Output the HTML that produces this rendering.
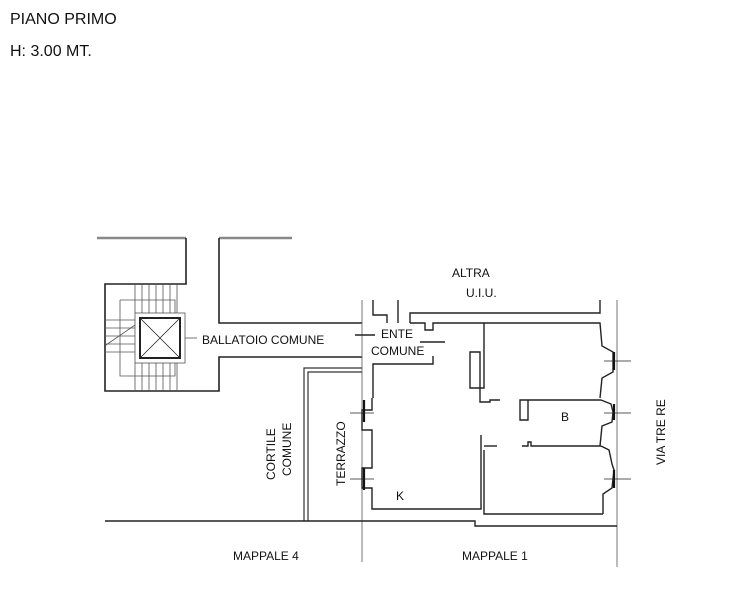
<!DOCTYPE html>
<html><head><style>
body{margin:0;background:#fff;width:736px;height:600px;overflow:hidden}
svg{position:absolute;left:0;top:0}
text{font-family:"Liberation Sans",sans-serif;fill:#111}
</style></head><body>
<svg width="736" height="600" viewBox="0 0 736 600">
<text x="10" y="24" font-size="16">PIANO PRIMO</text>
<text x="10" y="56" font-size="16">H: 3.00 MT.</text>
<g stroke="#222" stroke-width="1.6" fill="none">
<!-- top left lines -->
<line x1="97" y1="238" x2="186" y2="238" stroke="#888" stroke-width="2.5"/>
<line x1="219" y1="238" x2="292" y2="238" stroke="#888" stroke-width="2.5"/>
<polyline points="186,238 186,284 105,284 105,391 219,391 219,357 362,357"/>
<polyline points="219,238 219,323 362,323"/>
<!-- lift -->
<rect x="140" y="318" width="40" height="40" stroke-width="2"/>
<line x1="140" y1="318" x2="180" y2="358" stroke-width="0.8"/>
<line x1="180" y1="318" x2="140" y2="358" stroke-width="0.8"/>
</g>
<g stroke="#555" stroke-width="0.8" fill="none">
<rect x="135" y="313" width="50" height="50"/>
<polyline points="120,300 175,300 175,313"/>
<polyline points="120,300 120,376 175,376 175,363"/>
<line x1="135" y1="285" x2="135" y2="313"/><line x1="142" y1="285" x2="142" y2="313"/><line x1="149" y1="285" x2="149" y2="313"/><line x1="156" y1="285" x2="156" y2="313"/><line x1="163" y1="285" x2="163" y2="313"/><line x1="170" y1="285" x2="170" y2="313"/><line x1="177" y1="285" x2="177" y2="313"/>
<line x1="135" y1="363" x2="135" y2="391"/><line x1="142" y1="363" x2="142" y2="391"/><line x1="149" y1="363" x2="149" y2="391"/><line x1="156" y1="363" x2="156" y2="391"/><line x1="163" y1="363" x2="163" y2="391"/><line x1="170" y1="363" x2="170" y2="391"/><line x1="177" y1="363" x2="177" y2="391"/>
<line x1="105" y1="320" x2="135" y2="320"/><line x1="105" y1="328" x2="135" y2="328"/><line x1="105" y1="336" x2="135" y2="336"/><line x1="105" y1="344" x2="135" y2="344"/><line x1="105" y1="352" x2="135" y2="352"/>
<line x1="106" y1="345" x2="135" y2="325"/>
<line x1="185" y1="338" x2="197" y2="338"/>
<line x1="362" y1="300" x2="362" y2="562"/>
<line x1="617" y1="300" x2="617" y2="567"/>
</g>
<g stroke="#222" stroke-width="1.4" fill="none">
<!-- entrance -->
<polyline points="373,300 373,315 387,315 387,323"/>
<polyline points="398,300 398,323"/>
<polyline points="410,323 410,313 600,313 600,300"/>
<polyline points="410,323 425,323 425,330 433,330 433,323 484,323"/>
<polyline points="433,356 433,364 373,364 373,398"/>
<line x1="355" y1="335" x2="375" y2="335"/>
<line x1="420" y1="342" x2="445" y2="342"/>
<!-- cortile -->
<polyline points="304,521 304,368 362,368" stroke="#333" stroke-width="1.2"/>
<polyline points="308,521 308,372 362,372" stroke="#333" stroke-width="1.2"/>
<!-- K room -->
<polyline points="372,398 372,410 362,410 362,430 372,430 372,468 362,468 362,488 372,488 372,509 481,509 481,435"/>
<polyline points="484,323 484,388 470,388 470,352 480,352 480,402 490,402 490,400 500,400"/>
<polyline points="530,400 520,400 520,420 528,420 528,400 601,400"/>
<polyline points="484,446 497,446"/>
<polyline points="522,446 528,446 528,442 531,442 531,446 601,446"/>
<polyline points="484,450 484,514 603,514"/>
<polyline points="484,323 600,323 602,346 613,352 613,372 602,378 600,398"/>
<polyline points="601,400 611,404 613,412 612,422 602,426 600,446"/>
<polyline points="601,446 609,450 612,464 614,470 612,488 603,494 603,514"/>
<polyline points="105,521 475,521 475,526 617,526"/>
</g>
<g stroke="#111" stroke-width="2.2">
<line x1="614" y1="352" x2="614" y2="370"/><line x1="614" y1="404" x2="614" y2="420"/><line x1="614" y1="470" x2="614" y2="488"/>
<line x1="364" y1="400" x2="364" y2="422"/><line x1="364" y1="468" x2="364" y2="490"/>
</g>
<g stroke="#222" stroke-width="0.8">
<line x1="604" y1="361" x2="631" y2="361"/><line x1="604" y1="413" x2="631" y2="413"/><line x1="604" y1="479" x2="631" y2="479"/>
<line x1="350" y1="413" x2="374" y2="413"/><line x1="350" y1="479" x2="374" y2="479"/>
</g>
<g font-size="12">
<text x="452" y="277">ALTRA</text>
<text x="466" y="297">U.I.U.</text>
<text x="202" y="344">BALLATOIO COMUNE</text>
<text x="381" y="338">ENTE</text>
<text x="371" y="355">COMUNE</text>
<text x="396" y="500">K</text>
<text x="561" y="421">B</text>
<text x="233" y="560">MAPPALE 4</text>
<text x="462" y="560">MAPPALE 1</text>
<text transform="translate(275,480) rotate(-90)">CORTILE</text>
<text transform="translate(291,476) rotate(-90)">COMUNE</text>
<text transform="translate(345,486) rotate(-90)">TERRAZZO</text>
<text transform="translate(665,465) rotate(-90)">VIA TRE RE</text>
</g>
</svg>
</body></html>
